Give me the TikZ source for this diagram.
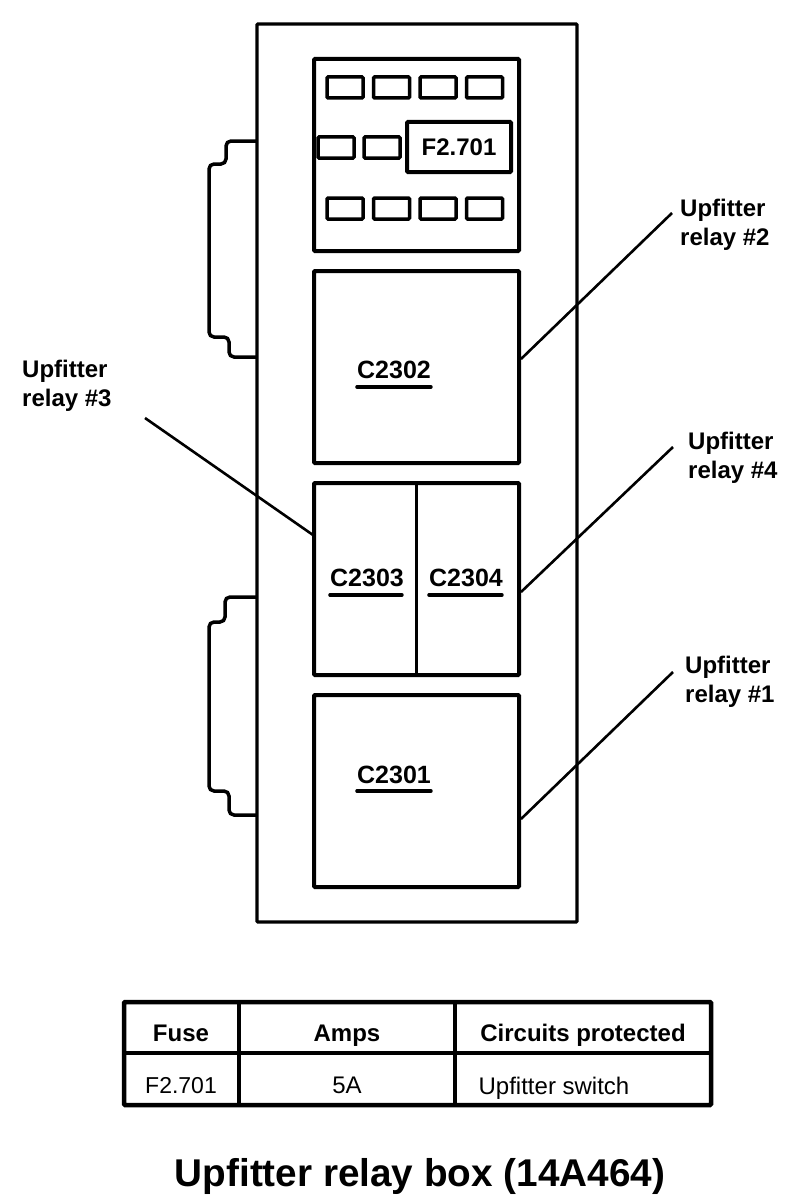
\documentclass[tikz,border=0pt]{standalone}
\usepackage{fontspec}
\setmainfont{Liberation Sans}
\usetikzlibrary{positioning}
\tikzset{
    panel/.style={draw, line width=4pt, rounded corners=1pt, inner sep=0pt, outer sep=0pt, anchor=north west},
    fusebox/.style={panel, line width=3.5pt, minimum width=36pt, minimum height=21pt},
    relaybox/.style={panel, minimum width=205pt, minimum height=192pt},
    tag/.style={font=\fontsize{25}{29}\selectfont\bfseries, inner sep=0pt, anchor=base},
    callout/.style={font=\fontsize{24}{29}\selectfont\bfseries, inner sep=0pt, align=left, anchor=west},
    leader/.style={line width=2.6pt},
    cell/.style={font=\fontsize{24}{28}\selectfont, inner sep=0pt, anchor=base},
    headcell/.style={cell, font=\fontsize{24}{28}\selectfont\bfseries},
    grip/.style={line width=3.5pt, rounded corners=5pt},
    bar/.style={line width=3.5pt, line cap=round}
}
\begin{document}
\begin{tikzpicture}[x=1pt, y=-1pt]
    \useasboundingbox (0,0) rectangle (800,1204);

    % housing and side grips
    \node[panel, line width=3.2pt, minimum width=320pt, minimum height=898pt] (housing) at (257,24) {};
    \draw[grip] (257,141) -- (226,141) -- (226,164) -- (209,164) -- (209,337) -- (229,337) -- (229,357) -- (257,357);
    \draw[grip] (257,597) -- (225,597) -- (225,622) -- (209,622) -- (209,791) -- (229,791) -- (229,815) -- (257,815);

    % fuse panel
    \node[panel, minimum width=205pt, minimum height=192pt] (fusepanel) at (314,59) {};
    \foreach \xpos [count=\i] in {327,373.5,420,466.5} {
        \node[fusebox] (top\i) at (\xpos,77) {};
        \node[fusebox] (bot\i) at (\xpos,198) {};
    }
    \node[fusebox] (mid1) at (318,137) {};
    \node[fusebox] (mid2) at (364,137) {};
    \node[panel, minimum width=104pt, minimum height=50pt, font=\fontsize{24}{28}\selectfont\bfseries] (fuseF) at (407,122) {F2.701};

    % relay sockets
    \node[relaybox] (relayB) at (314,271) {};
    \node[relaybox] (relayC) at (314,483) {};
    \node[relaybox] (relayA) at (314,695) {};
    \coordinate (splitT) at (416,483);
    \coordinate (splitB) at (416,675);
    \draw[line width=3pt] (splitT) -- (splitB);

    \node[tag] (cB) at (394,378) {C2302};
    \node[tag] (cC) at (367,586) {C2303};
    \node[tag] (cD) at (466,586) {C2304};
    \node[tag] (cA) at (394,783) {C2301};
    \draw[bar] ([yshift=-9pt]cB.base west) -- ++(74,0);
    \draw[bar] ([yshift=-9pt]cC.base west) -- ++(72,0);
    \draw[bar] ([yshift=-9pt]cD.base west) -- ++(73,0);
    \draw[bar] ([yshift=-8pt]cA.base west) -- ++(74,0);

    % leaders
    \node[callout] (labelB) at (680,225) {Upfitter\\relay \#2};
    \node[callout] (labelC) at (22,386) {Upfitter\\relay \#3};
    \node[callout] (labelD) at (688,458) {Upfitter\\relay \#4};
    \node[callout] (labelA) at (685,682) {Upfitter\\relay \#1};
    \coordinate (tipB) at (672,213);
    \coordinate (tipC) at (145,418);
    \coordinate (tipD) at (673,447);
    \coordinate (tipA) at (673,672);
    \coordinate (rootB) at (521,359);
    \coordinate (rootC) at (313,535);
    \coordinate (rootD) at (521,592);
    \coordinate (rootA) at (521,819);
    \draw[leader] (rootB) -- (tipB);
    \draw[leader] (rootC) -- (tipC);
    \draw[leader] (rootD) -- (tipD);
    \draw[leader] (rootA) -- (tipA);

    % fuse table
    \node[panel, line width=4.5pt, minimum width=587pt, minimum height=103pt] (tbl) at (124,1002) {};
    \coordinate (rowL) at (124,1053);
    \coordinate (rowR) at (711,1053);
    \coordinate (colAT) at (239,1002);
    \coordinate (colAB) at (239,1105);
    \coordinate (colBT) at (455,1002);
    \coordinate (colBB) at (455,1105);
    \draw[line width=4pt] (rowL) -- (rowR);
    \draw[line width=4pt] (colAT) -- (colAB);
    \draw[line width=4pt] (colBT) -- (colBB);
    \node[headcell] (headFuse) at (181,1041) {Fuse};
    \node[headcell] (headAmps) at (347,1041) {Amps};
    \node[headcell] (headCirc) at (583,1041) {Circuits protected};
    \node[cell, font=\fontsize{23}{26}\selectfont] (valFuse) at (181,1093) {F2.701};
    \node[cell] (valAmps) at (347,1093) {5A};
    \node[cell] (valCirc) at (554,1094) {Upfitter switch};

    \node[font=\fontsize{38.7}{44}\selectfont\bfseries, inner sep=0pt, anchor=base] (title) at (420,1186) {Upfitter relay box (14A464)};
\end{tikzpicture}
\end{document}
